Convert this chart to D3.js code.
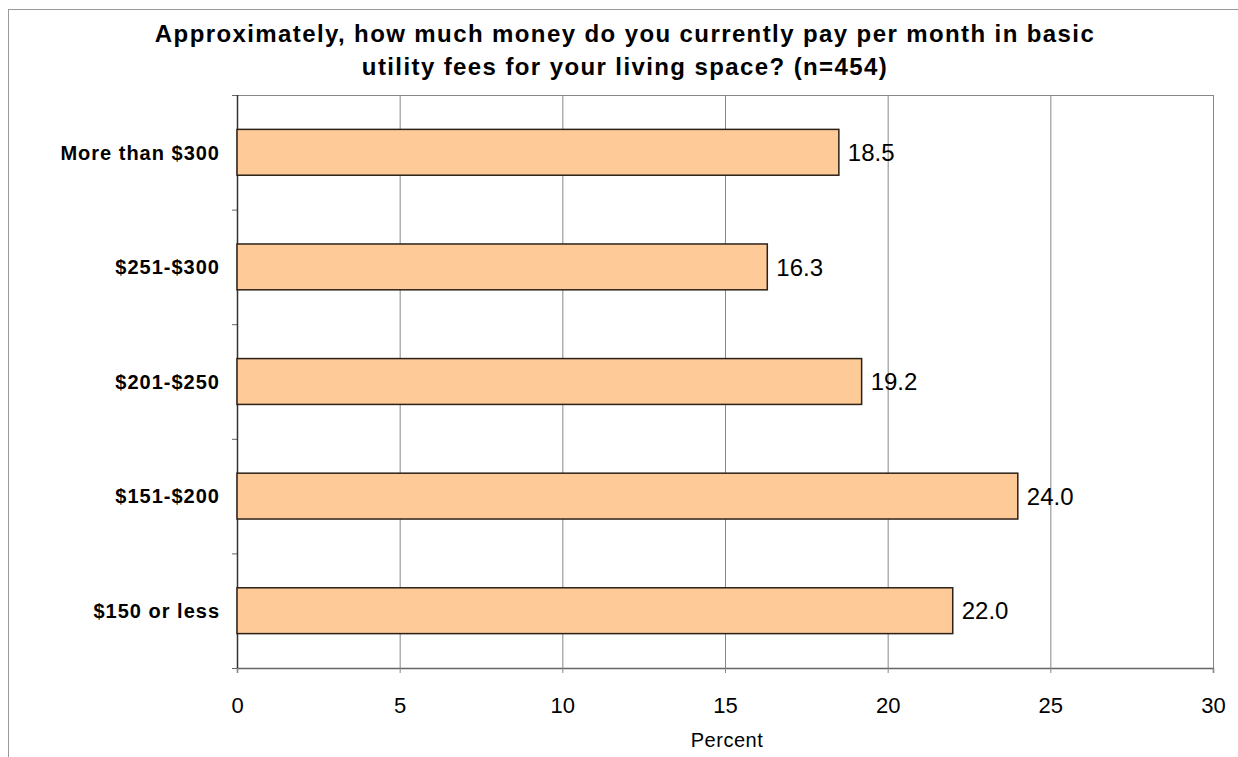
<!DOCTYPE html>
<html>
<head>
<meta charset="utf-8">
<script src="https://cdn.jsdelivr.net/npm/d3@7"></script>
<style>
  body { margin: 0; background: #fff; }
  text { font-family: "Liberation Sans", Arial, sans-serif; fill: #000; }
</style>
</head>
<body>
<svg></svg>
<script>
// chart data
const categories = ["More than $300", "$251-$300", "$201-$250", "$151-$200", "$150 or less"]
const values = [18.5, 16.3, 19.2, 24.0, 22.0]
const xTicks = [0, 5, 10, 15, 20, 25, 30]
const titleLines = ["Approximately, how much money do you currently pay per month in basic",
    "utility fees for your living space? (n=454)"]

let w = 1238,
    h = 757,
    plotLeft = 237, plotRight = 1213, plotTop = 95, plotBottom = 668

let svg = d3.select("svg").attr("width", w).attr("height", h)

// outer frame
svg.append("rect")
    .attr("x", 8.5).attr("y", 9.5)
    .attr("width", 1260).attr("height", 800)
    .attr("fill", "none").attr("stroke", "#999").attr("stroke-width", 1)

var x = d3.scaleLinear().domain([0, 30]).range([plotLeft, plotRight])
var y = d3.scaleBand().domain(categories).range([plotTop, plotBottom])
    .paddingInner(0.6).paddingOuter(0.3)

// grid lines
svg.append("g").selectAll("line")
    .data(xTicks)
    .enter().append("line")
    .attr("x1", d => x(d) + 0.5).attr("x2", d => x(d) + 0.5)
    .attr("y1", plotTop).attr("y2", plotBottom)
    .attr("stroke", "#888").attr("stroke-width", 1)

// plot frame top
svg.append("line")
    .attr("x1", plotLeft).attr("x2", plotRight + 0.5)
    .attr("y1", plotTop + 0.5).attr("y2", plotTop + 0.5)
    .attr("stroke", "#888")

// x axis
var xAxis = svg.append("g")
    .attr("transform", "translate(0," + plotBottom + ")")
    .call(d3.axisBottom(x).tickValues(xTicks).tickSize(5).tickPadding(24))
xAxis.select(".domain").attr("stroke", "#666").attr("stroke-width", 1.5)
xAxis.selectAll(".tick line").attr("stroke", "#888")
xAxis.selectAll("text")
    .attr("font-size", 22)
    .attr("font-family", "Liberation Sans, Arial, sans-serif")
    .attr("fill", "#000")

// y axis ticks at category boundaries
let bounds = [plotTop]
categories.forEach(c => bounds.push(y(c) + y.bandwidth() + y.step() * y.paddingInner() / 2))
bounds[bounds.length - 1] = plotBottom
svg.append("g").selectAll("line")
    .data(bounds)
    .enter().append("line")
    .attr("x1", plotLeft - 5).attr("x2", plotLeft)
    .attr("y1", d => d + 0.5).attr("y2", d => d + 0.5)
    .attr("stroke", "#666")
svg.append("line")
    .attr("x1", plotLeft + 0.5).attr("x2", plotLeft + 0.5)
    .attr("y1", plotTop).attr("y2", plotBottom)
    .attr("stroke", "#333").attr("stroke-width", 1.5)

// bars
svg.append("g").selectAll("rect")
    .data(values)
    .enter().append("rect")
    .attr("x", x(0))
    .attr("y", (d, i) => y(categories[i]))
    .attr("width", d => x(d) - x(0))
    .attr("height", y.bandwidth())
    .attr("fill", "#FECA98")
    .attr("stroke", "#2b2118")
    .attr("stroke-width", 1.5)

// value labels
svg.append("g").selectAll("text")
    .data(values)
    .enter().append("text")
    .attr("x", d => x(d) + 9)
    .attr("y", (d, i) => y(categories[i]) + y.bandwidth() / 2)
    .attr("dy", "0.36em")
    .attr("font-size", 24)
    .text(d => d.toFixed(1))

// category labels
svg.append("g").selectAll("text")
    .data(categories)
    .enter().append("text")
    .attr("x", 220)
    .attr("y", d => y(d) + y.bandwidth() / 2)
    .attr("dy", "0.36em")
    .attr("text-anchor", "end")
    .attr("font-size", 20)
    .attr("letter-spacing", 1)
    .attr("font-weight", "bold")
    .text(d => d)

// title
svg.append("g").selectAll("text")
    .data(titleLines)
    .enter().append("text")
    .attr("x", 625)
    .attr("y", (d, i) => 42 + i * 33)
    .attr("text-anchor", "middle")
    .attr("font-size", 24)
    .attr("letter-spacing", 1.4)
    .attr("font-weight", "bold")
    .text(d => d)

// axis title
svg.append("text")
    .attr("x", 727).attr("y", 747)
    .attr("text-anchor", "middle")
    .attr("font-size", 20)
    .attr("letter-spacing", 0.5)
    .text("Percent")
</script>
</body>
</html>
